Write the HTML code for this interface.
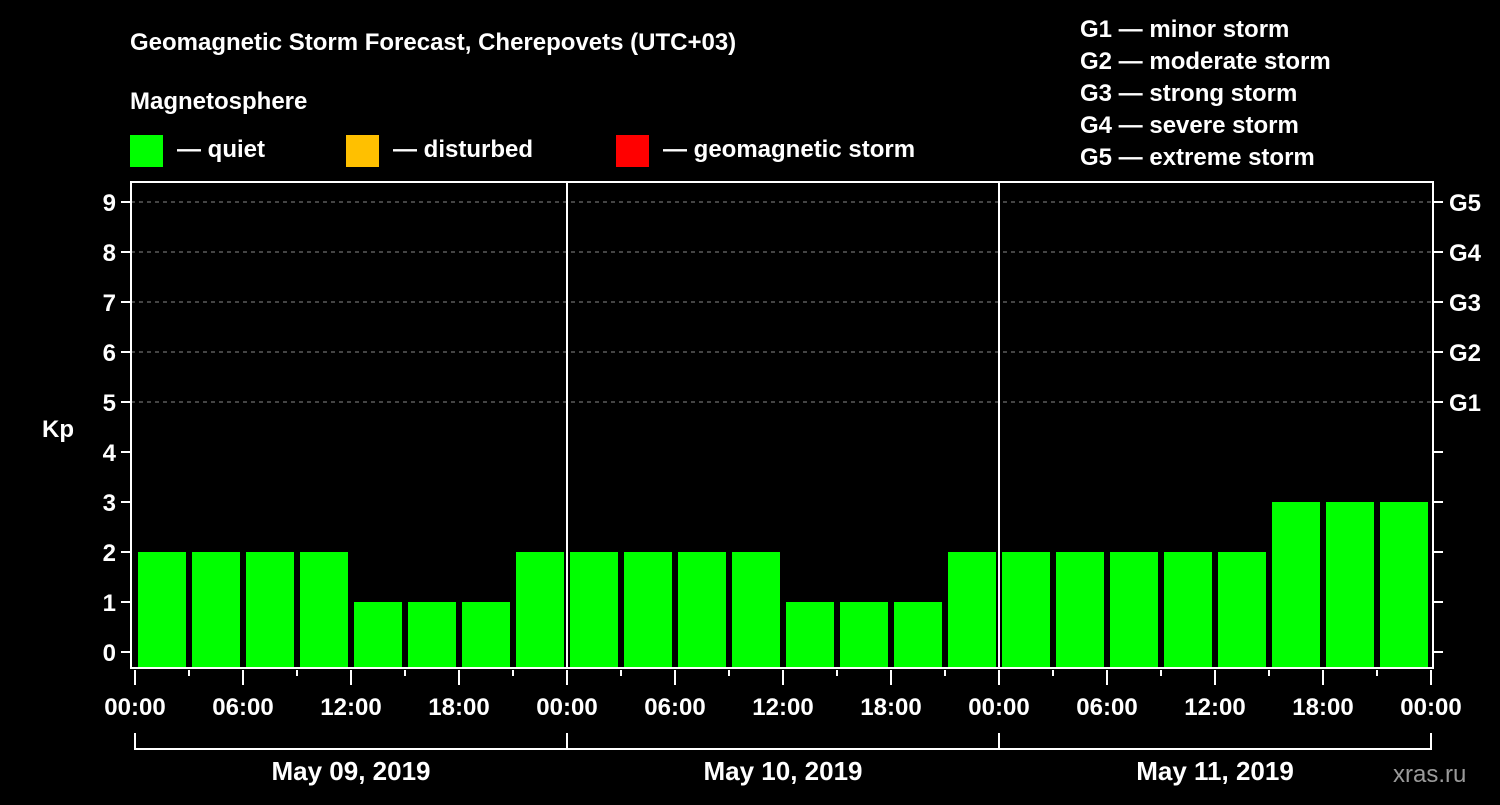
<!DOCTYPE html>
<html><head><meta charset="utf-8"><style>
body{margin:0;background:#000;width:1500px;height:800px;overflow:hidden}
svg text{font-family:"Liberation Sans",Arial,sans-serif;font-weight:bold;fill:#fff}
</style></head><body>
<svg id="chart" width="1500" height="800" xmlns="http://www.w3.org/2000/svg">
<rect width="1500" height="800" fill="#000"/>
<text x="130" y="50" font-size="24">Geomagnetic Storm Forecast, Cherepovets (UTC+03)</text>
<text x="130" y="109" font-size="24">Magnetosphere</text>
<g><rect x="130" y="135" width="33" height="32" fill="#00ff00"/><text x="177" y="157" font-size="24">— quiet</text></g>
<g><rect x="346" y="135" width="33" height="32" fill="#ffc000"/><text x="393" y="157" font-size="24">— disturbed</text></g>
<g><rect x="616" y="135" width="33" height="32" fill="#ff0000"/><text x="663" y="157" font-size="24">— geomagnetic storm</text></g>
<g font-size="24">
<text x="1080" y="37">G1 — minor storm</text>
<text x="1080" y="69">G2 — moderate storm</text>
<text x="1080" y="101">G3 — strong storm</text>
<text x="1080" y="133">G4 — severe storm</text>
<text x="1080" y="165">G5 — extreme storm</text>
</g>
<text x="42" y="437" font-size="24">Kp</text>
<text x="1393" y="782" font-size="24" fill="#999" style="fill:#9a9a9a;font-weight:normal">xras.ru</text>
<g id="grid"></g><g id="bars"></g><g id="axes"></g>
</svg>
<script>
const kpValues=[2,2,2,2,1,1,1,2, 2,2,2,2,1,1,1,2, 2,2,2,2,2,3,3,3];
const dayLabels=["May 09, 2019","May 10, 2019","May 11, 2019"];
const hourLabels=["00:00","06:00","12:00","18:00"];
const gLabels=["G1","G2","G3","G4","G5"];
const ns="http://www.w3.org/2000/svg";
const X0=135,DAYW=432,Y0=652,UNIT=50,TOP=182,BOT=668,LEFT=131,RIGHT=1433;
const x=h=>X0+h*DAYW/24, y=v=>Y0-v*UNIT;
function mk(tag,a,p){const e=document.createElementNS(ns,tag);for(const k in a)e.setAttribute(k,a[k]);p.appendChild(e);return e;}
const grid=document.getElementById('grid'),bars=document.getElementById('bars'),axes=document.getElementById('axes');
for(let v=5;v<=9;v++){const l=mk('line',{x1:LEFT,x2:RIGHT,y1:y(v),y2:y(v),stroke:'#888','stroke-dasharray':'4,4','stroke-width':1},grid);
}
kpValues.forEach((v,i)=>{const c=v>=5?'#ff0000':(v>=4?'#ffc000':'#00ff00');
const r=mk('rect',{x:x(i*3)+3,y:y(v),width:x(i*3+3)-x(i*3)-6,height:BOT-1-y(v),fill:c},bars);
});
for(let d=1;d<dayLabels.length;d++){const l=mk('line',{x1:x(d*24),x2:x(d*24),y1:TOP,y2:BOT,stroke:'#fff','stroke-width':2},axes);
}
const f=mk('rect',{x:LEFT,y:TOP,width:RIGHT-LEFT,height:BOT-TOP,fill:'none',stroke:'#fff','stroke-width':2},axes);

for(let v=0;v<=9;v++){mk('line',{x1:LEFT-10,x2:LEFT,y1:y(v),y2:y(v),stroke:'#fff','stroke-width':2},axes);
mk('line',{x1:RIGHT,x2:RIGHT+10,y1:y(v),y2:y(v),stroke:'#fff','stroke-width':2},axes);
const t=mk('text',{x:116,y:y(v)+9,'text-anchor':'end','font-size':24},axes);t.textContent=v;
}
gLabels.forEach((g,i)=>{const t=mk('text',{x:1449,y:y(5+i)+9,'font-size':24},axes);t.textContent=g;
});
for(let h=0;h<=72;h+=3){const maj=h%6==0;mk('line',{x1:x(h),x2:x(h),y1:BOT+2,y2:BOT+(maj?17:8),stroke:'#fff','stroke-width':2},axes);
if(maj){const t=mk('text',{x:x(h),y:715,'text-anchor':'middle','font-size':24},axes);t.textContent=hourLabels[(h%24)/6];
}}
mk('path',{d:`M${x(0)},733 V749 H${x(72)} V733 M${x(24)},733 V749 M${x(48)},733 V749`,stroke:'#fff','stroke-width':2,fill:'none'},axes);
dayLabels.forEach((d,i)=>{const t=mk('text',{x:x(i*24+12),y:780,'text-anchor':'middle','font-size':26},axes);t.textContent=d;
});
</script>
</body></html>
